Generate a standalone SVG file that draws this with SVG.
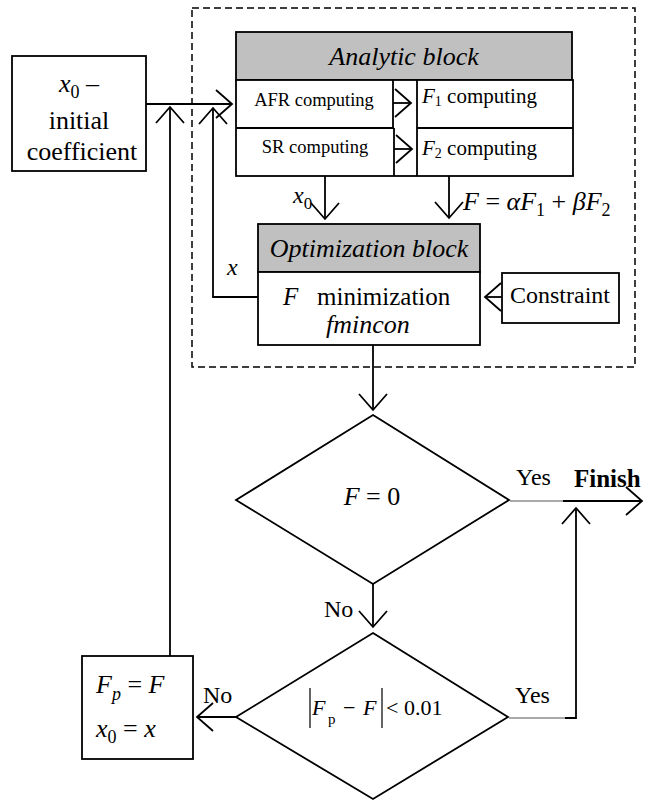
<svg xmlns="http://www.w3.org/2000/svg" width="657" height="802" viewBox="0 0 657 802">
<defs>
<style>
.b{fill:#fff;stroke:#000;stroke-width:1.8}
.h{fill:#c0c0c0;stroke:#000;stroke-width:1.8}
.c{fill:none;stroke:#000;stroke-width:1.8}
.g{fill:none;stroke:#555;stroke-width:1}
text{font-family:'Liberation Serif','DejaVu Serif',serif;fill:#000}
.i{font-style:italic}
</style>
<marker id="arr" viewBox="0 0 20 30" refX="18" refY="15" markerWidth="20" markerHeight="30" markerUnits="userSpaceOnUse" orient="auto">
<path d="M2,1 L18,15 L2,29" fill="none" stroke="#000" stroke-width="1.8"/>
</marker>
</defs>
<rect width="657" height="802" fill="#fff"/>

<rect id="frame" x="192" y="8" width="443" height="359" fill="none" stroke="#000" stroke-width="1.5" stroke-dasharray="7,4"/>

<g id="init">
<rect class="b" x="12" y="56" width="134" height="115"/>
<text x="59" y="92" font-size="26"><tspan class="i">x</tspan><tspan font-size="18" dy="6">0</tspan><tspan dy="-6"> –</tspan></text>
<text x="79" y="129" font-size="26" text-anchor="middle">initial</text>
<text x="82" y="160" font-size="26" text-anchor="middle">coefficient</text>
</g>

<g id="analytic">
<rect class="h" x="236" y="32" width="336" height="48"/>
<text class="i" x="404" y="65" font-size="26" text-anchor="middle">Analytic block</text>
<rect class="b" x="236" y="80" width="337" height="96"/>
<path class="c" d="M393,80 V128 M394,128 V176 M417,80 V176 M236,128 H394 M417,128 H573"/>
<text x="314" y="106" font-size="18.5" text-anchor="middle">AFR computing</text>
<text x="315" y="153" font-size="18.5" text-anchor="middle">SR computing</text>
<text x="422" y="103" font-size="21"><tspan class="i">F</tspan><tspan font-size="14" dy="3">1</tspan><tspan dy="-3"> computing</tspan></text>
<text x="422" y="155" font-size="21"><tspan class="i">F</tspan><tspan font-size="14" dy="3">2</tspan><tspan dy="-3"> computing</tspan></text>
</g>

<g id="optimization">
<rect class="h" x="258" y="224" width="222" height="48"/>
<text class="i" x="369" y="257" font-size="26" text-anchor="middle">Optimization block</text>
<rect class="b" x="258" y="272" width="222" height="73"/>
<text x="283" y="305" font-size="25"><tspan class="i">F</tspan><tspan x="317">minimization</tspan></text>
<text class="i" x="368" y="333" font-size="26" text-anchor="middle">fmincon</text>
</g>

<g id="constraint">
<rect class="b" x="502" y="273" width="117" height="50"/>
<text x="560" y="303" font-size="24" text-anchor="middle">Constraint</text>
</g>

<g id="check1">
<polygon class="b" points="373,415 509,500 373,584 236,500"/>
<text x="372" y="505" font-size="26" text-anchor="middle"><tspan class="i">F</tspan> = 0</text>
</g>

<g id="check2">
<polygon class="b" points="373,633 508,717 373,799 236,717"/>
<path d="M310,688 V728 M382,688 V728" stroke="#000" stroke-width="1.2"/>
<text font-size="22"><tspan class="i" x="312" y="715">F</tspan><tspan x="328" y="724" font-size="15">p</tspan><tspan x="343" y="715">−</tspan><tspan class="i" x="363" y="715">F</tspan><tspan x="386" y="715">&lt; 0.01</tspan></text>
</g>

<g id="update">
<rect class="b" x="82" y="656" width="111" height="103"/>
<text x="96" y="693" font-size="26"><tspan class="i">F</tspan><tspan class="i" font-size="18" dy="7">p</tspan><tspan dy="-7"> = </tspan><tspan class="i">F</tspan></text>
<text x="96" y="737" font-size="26"><tspan class="i">x</tspan><tspan font-size="18" dy="6">0</tspan><tspan dy="-6"> = </tspan><tspan class="i">x</tspan></text>
</g>

<g id="finish">
<text x="574" y="487" font-size="25" font-weight="bold">Finish</text>
</g>

<g id="connectors">
<path class="c" d="M146,104 H232" marker-end="url(#arr)"/>
<path class="c" d="M170,656 V107" marker-end="url(#arr)"/>
<path class="c" d="M258,297 H213 V108" marker-end="url(#arr)"/>
<path class="c" d="M325,176 V219" marker-end="url(#arr)"/>
<path class="c" d="M449,176 V218" marker-end="url(#arr)"/>
<path class="c" d="M393,103 H411" marker-end="url(#arr)"/>
<path class="c" d="M394,149 H412" marker-end="url(#arr)"/>
<path class="c" d="M502,297 H485" marker-end="url(#arr)"/>
<path class="c" d="M373,345 V410" marker-end="url(#arr)"/>
<path class="c" d="M373,584 V627" marker-end="url(#arr)"/>
<path class="g" d="M510,501 H563"/>
<path class="c" d="M563,501 H642" marker-end="url(#arr)"/>
<path class="g" d="M509,718 H565"/>
<path class="c" d="M565,718 H576 V508" marker-end="url(#arr)"/>
<path class="c" d="M236,717 H197" marker-end="url(#arr)"/>
</g>

<g id="labels">
<text x="293" y="203" font-size="24"><tspan class="i">x</tspan><tspan font-size="17" dy="6">0</tspan></text>
<text x="463" y="210" font-size="26"><tspan class="i">F</tspan> = <tspan class="i">αF</tspan><tspan font-size="18" dy="6">1</tspan><tspan dy="-6"> + </tspan><tspan class="i">βF</tspan><tspan font-size="18" dy="6">2</tspan></text>
<text class="i" x="227" y="275" font-size="24">x</text>
<text x="516" y="485" font-size="24">Yes</text>
<text x="324" y="617" font-size="24">No</text>
<text x="515" y="703" font-size="24">Yes</text>
<text x="203" y="703" font-size="24">No</text>
</g>
</svg>
